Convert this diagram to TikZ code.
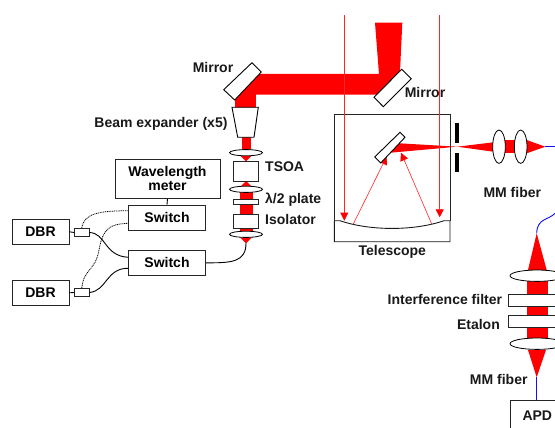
\documentclass[tikz,border=0pt]{standalone}
\usepackage{fontspec}
\setmainfont{Liberation Sans}
\usetikzlibrary{arrows.meta,shapes.geometric}
\definecolor{beam}{HTML}{FF0000}
\definecolor{fib}{HTML}{1010F0}
\tikzset{
  box/.style={draw=black!85,fill=white,line width=0.9pt,inner sep=0pt,font=\fontsize{14}{14.5}\selectfont\bfseries,align=center},
  optic/.style={draw=black,fill=white,line width=0.9pt},
  lens/.style={draw=black,fill=white,line width=0.8pt,ellipse,inner sep=0pt},
  lbl/.style={inner sep=0pt,font=\fontsize{14}{14.5}\selectfont\bfseries,text=black!90},
  ray/.style={draw=beam!85!white,line width=0.6pt},
  rayarrow/.style={ray,-{Triangle[length=8pt,width=8pt,color=beam]}},
  cable/.style={draw=black,line width=0.9pt},
  dots/.style={draw=black,line width=0.8pt,dash pattern=on 1pt off 0.8pt},
  fiber/.style={draw=fib,line width=0.9pt},
}
\begin{document}
\begin{tikzpicture}[x=1pt,y=-1pt]
\path[use as bounding box,fill=white] (0,0) rectangle (555,428);
\clip (0,0) rectangle (555,428);

% free ray ends
\coordinate (rlS) at (344.3,15);
\coordinate (rlE) at (344.3,220.7);
\coordinate (rrS) at (439.7,15);
\coordinate (rrE) at (439.7,217.3);
\coordinate (r1S) at (353.3,224);
\coordinate (r1E) at (386.7,156.5);
\coordinate (r2S) at (431.7,224);
\coordinate (r2E) at (401,152.7);

% main red beam
\fill[beam] (375,22.7) -- (402.3,22.7) -- (400,72) -- (390,94.7) -- (245,94.7) -- (245,74) -- (379,74) -- cycle;
\fill[beam] (235,85) rectangle (255.7,108);
\fill[beam] (242.3,137) rectangle (251,152);
\fill[beam] (240,155.3) -- (252,155.3) -- (246,161.3) -- cycle;
\fill[beam] (246,181) -- (252,187) -- (240,187) -- cycle;
\fill[beam] (240,190) rectangle (252.7,235);
\fill[beam] (240,237.3) -- (252,237.3) -- (246,243.3) -- cycle;

% telescope output beam
\fill[beam] (399.3,143.3) -- (457.3,146.7) -- (493.3,142.3) -- (493.3,151.7) -- (457.3,146.7) -- (390.7,152.7) -- cycle;
\fill[beam] (505,140) rectangle (515,153.3);
\fill[beam] (526.7,140) -- (545.3,146.7) -- (526.7,153.3) -- cycle;

% detection beam
\fill[beam] (536.7,233.3) -- (546.7,270) -- (528,270) -- cycle;
\fill[beam] (527.3,270) rectangle (548,345);
\fill[beam] (528,350) -- (546,350) -- (536.7,377.3) -- cycle;

% telescope
\draw[line width=0.9pt,black!85] (334.3,220.7) -- (334.3,114.3) -- (450,114.3) -- (450,220.7);
\draw[optic,draw=black!90,fill=white] (334.3,220.7) -- (340,220.7) .. controls (370,231) and (414,231) .. (444,220.7) -- (450,220.7) -- (450,241.7) -- (334.3,241.7) -- cycle;

% rays
\draw[rayarrow] (rlS) -- (rlE);
\draw[rayarrow] (rrS) -- (rrE);
\draw[rayarrow] (r1S) -- (r1E);
\draw[rayarrow] (r2S) -- (r2E);

% mirrors
\draw[optic] (252,62.7) -- (261.3,72) -- (234.7,100) -- (223.7,89.7) -- cycle;
\draw[optic] (401.7,69.3) -- (411.3,78.7) -- (383.3,106.7) -- (374,97.3) -- cycle;
\draw[optic] (400,132.3) -- (405,137.3) -- (380.7,163) -- (374.7,157) -- cycle;

% beam expander
\draw[optic] (232,107.3) -- (258.3,107.3) -- (254,137.3) -- (237.7,137.3) -- cycle;

% lenses and optics on the source arm
\node[lens,minimum width=33pt,minimum height=6.2pt] (l1) at (246,152.7) {};
\node[box,minimum width=24.6pt,minimum height=19.7pt] (tsoa) at (246,171.2) {};
\node[lens,minimum width=33pt,minimum height=6.2pt] (l2) at (246,189.3) {};
\node[box,minimum width=24.4pt,minimum height=5.7pt] (hwp) at (245.9,201.8) {};
\node[box,minimum width=24.6pt,minimum height=14pt] (iso) at (246,221.3) {};
\node[lens,minimum width=33pt,minimum height=6.2pt] (l3) at (246,234.3) {};

% collection lenses, aperture
\node[lens,minimum width=12.6pt,minimum height=33.4pt] (c1) at (499,146.7) {};
\node[lens,minimum width=12.6pt,minimum height=33.4pt] (c2) at (520.7,146.7) {};
\fill[black] (455.4,123.3) rectangle (459.2,142.7);
\fill[black] (455.4,153.3) rectangle (459.2,172.3);

% detection arm
\node[lens,minimum width=54pt,minimum height=11.4pt] (d1) at (537,275.7) {};
\node[box,minimum width=60pt,minimum height=12.4pt] (iff) at (538.3,300.5) {};
\node[box,minimum width=60pt,minimum height=12.4pt] (eta) at (538.3,321.5) {};
\node[lens,minimum width=54pt,minimum height=11.4pt] (d2) at (537,343.7) {};
\node[box,minimum width=55pt,minimum height=40pt,anchor=north west] (apd) at (509.7,400.3) {};
\node[lbl] at (537.3,416) {APD};

% fibres
\coordinate (fa) at (545.3,146.7);
\coordinate (fb) at (555,146.7);
\coordinate (fc) at (555,213.3);
\coordinate (fd) at (536.7,233.3);
\coordinate (fe) at (536.7,377.3);
\draw[fiber] (fa) -- (fb);
\draw[fiber] (fc) .. controls (549,220) and (537,218) .. (fd);
\draw[fiber] (fe) -- (apd.north west -| fe);

% left block
\node[box,minimum width=105pt,minimum height=39.3pt] (wm) at (167.5,178.7) {Wavelength\\meter};
\node[box,minimum width=77.4pt,minimum height=25pt] (sw1) at (167,217.5) {Switch};
\node[box,minimum width=77.4pt,minimum height=24.4pt] (sw2) at (167,262.8) {Switch};
\node[box,minimum width=57pt,minimum height=24.3pt] (dbr1) at (40.5,231.8) {DBR};
\node[box,minimum width=57pt,minimum height=24.3pt] (dbr2) at (40.5,292.8) {DBR};
\node[box,minimum width=14.3pt,minimum height=8.4pt] (cp1) at (81.8,232.5) {};
\node[box,minimum width=14.3pt,minimum height=8.4pt] (cp2) at (81.8,292.5) {};
\draw[cable] (wm.south) -- (sw1.north);
\draw[cable] (dbr1.east) -- (cp1.west);
\draw[cable] (dbr2.east) -- (cp2.west);
\draw[cable] (cp1.east) .. controls (106,233) and (104,256) .. (128.3,257.3);
\draw[cable] (cp2.east) .. controls (107,291) and (106,268) .. (128.3,268.3);
\draw[cable] (sw2.east) .. controls (232,263) and (246,262) .. (246,243);
\coordinate (a1) at (128.3,210.7);
\coordinate (a2) at (128.3,223.3);
\draw[dots] (cp1.north) .. controls (84,213) and (100,211) .. (a1);
\draw[dots] (cp2.north) .. controls (84,268) and (95,272) .. (99,250) .. controls (103,228) and (110,224) .. (a2);

% labels
\node[lbl] at (213,67.3) {Mirror};
\node[lbl] at (425,92.3) {Mirror};
\node[lbl,anchor=east] at (227.7,124) {Beam expander (x5)};
\node[lbl,anchor=west] at (265,167) {TSOA};
\node[lbl,anchor=west] at (265,200) {λ/2 plate};
\node[lbl,anchor=west] at (265,219) {Isolator};
\node[lbl] at (392.3,252.3) {Telescope};
\node[lbl] at (512.3,192.3) {MM fiber};
\node[lbl,anchor=east] at (502.3,299.3) {Interference filter};
\node[lbl,anchor=east] at (500,324) {Etalon};
\node[lbl,anchor=east] at (527.7,379.3) {MM fiber};
\end{tikzpicture}
\end{document}
